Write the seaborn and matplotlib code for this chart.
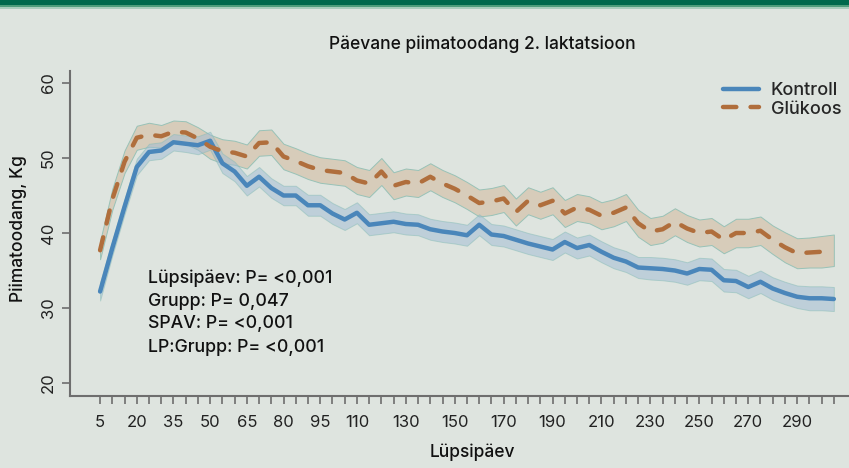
# Päevane piimatoodang 2. laktatsioonis: kontroll vs glükoos
import numpy as np
import pandas as pd
import matplotlib
matplotlib.use("Agg")
import matplotlib.pyplot as plt
from matplotlib.patches import Rectangle
from matplotlib.lines import Line2D
from matplotlib.ticker import FixedLocator
import seaborn as sns

# andmed (loetud jooniselt)
days = [5, 10, 15, 20, 25, 30, 35, 40, 45, 50,
        55, 60, 65, 70, 75, 80, 85, 90, 95, 100,
        105, 110, 115, 120, 125, 130, 135, 140, 145, 150,
        155, 160, 165, 170, 175, 180, 185, 190, 195, 200,
        205, 210, 215, 220, 225, 230, 235, 240, 245, 250,
        255, 260, 265, 270, 275, 280, 285, 290, 295, 300,
        305]

kontroll = [32.2, 38.0, 43.5, 48.8, 50.8, 51.0, 52.1, 51.9, 51.7, 52.3,
            49.3, 48.2, 46.3, 47.5, 46.0, 45.0, 45.0, 43.7, 43.7, 42.6,
            41.8, 42.7, 41.1, 41.3, 41.5, 41.2, 41.1, 40.5, 40.2, 40.0,
            39.7, 41.1, 39.8, 39.6, 39.1, 38.6, 38.2, 37.8, 38.8, 38.0,
            38.4, 37.5, 36.7, 36.2, 35.4, 35.3, 35.2, 35.0, 34.6, 35.2,
            35.1, 33.7, 33.6, 32.8, 33.5, 32.6, 32.0, 31.5, 31.3, 31.3,
            31.2]

glukoos = [37.7, 44.5, 49.5, 52.7, 53.1, 52.9, 53.5, 53.4, 52.6, 51.5,
           50.9, 50.7, 50.2, 52.0, 52.1, 50.2, 49.6, 48.9, 48.4, 48.2,
           48.0, 47.0, 46.6, 48.2, 46.3, 46.8, 46.6, 47.5, 46.6, 45.9,
           45.0, 44.0, 44.2, 44.6, 42.8, 44.3, 43.7, 44.3, 42.6, 43.4,
           43.1, 42.3, 42.7, 43.4, 41.3, 40.2, 40.5, 41.5, 40.6, 40.0,
           40.2, 39.1, 40.0, 40.0, 40.3, 39.1, 38.1, 37.3, 37.4, 37.5,
           37.7]

# usaldusvahemiku poollaius
kontroll_ci = [1.2, 1.0, 1.0, 1.1, 1.1, 1.1, 1.1, 1.1, 1.2, 1.2,
               1.3, 1.3, 1.3, 1.3, 1.3, 1.3, 1.3, 1.4, 1.4, 1.4,
               1.4, 1.4, 1.4, 1.4, 1.4, 1.4, 1.4, 1.4, 1.4, 1.4,
               1.4, 1.4, 1.4, 1.4, 1.4, 1.4, 1.4, 1.4, 1.4, 1.4,
               1.4, 1.4, 1.4, 1.4, 1.4, 1.5, 1.5, 1.5, 1.5, 1.5,
               1.5, 1.5, 1.5, 1.5, 1.5, 1.5, 1.5, 1.5, 1.6, 1.6,
               1.6]

glukoos_ci = [1.2, 1.4, 1.5, 1.6, 1.6, 1.5, 1.5, 1.5, 1.5, 1.6,
              1.6, 1.6, 1.6, 1.7, 1.7, 1.7, 1.7, 1.7, 1.7, 1.7,
              1.7, 1.8, 1.8, 1.8, 1.8, 1.8, 1.8, 1.8, 1.8, 1.8,
              1.8, 1.8, 1.8, 1.8, 1.8, 1.8, 1.8, 1.8, 1.8, 1.8,
              1.8, 1.8, 1.8, 1.8, 1.8, 1.8, 1.8, 1.8, 1.8, 1.8,
              1.8, 1.8, 1.9, 1.9, 1.9, 1.9, 2.0, 2.0, 2.0, 2.1,
              2.1]

x_tick_labels = [5, 20, 35, 50, 65, 80, 95, 110, 130, 150, 170,
                 190, 210, 230, 250, 270, 290]
y_ticks = [20, 30, 40, 50, 60]

stats_lines = ["Lüpsipäev: P= <0,001",
               "Grupp: P= 0,047",
               "SPAV: P= <0,001",
               "LP:Grupp: P= <0,001"]

# värvid
bg = "#DEE4DF"
blue = "#4A86BA"
brown = "#B06E3C"
dash = (3.0, 3.2)

sns.set_style("ticks")
plt.rcParams["font.family"] = ["Inter", "DejaVu Sans"]

fig = plt.figure(figsize=(8.49, 4.68), dpi=100, facecolor=bg)
ax = fig.add_axes([70 / 849, 72 / 468, 779 / 849, 325 / 468])
ax.set_facecolor(bg)

df = pd.DataFrame({
    "Lüpsipäev": days + days,
    "Piimatoodang": kontroll + glukoos,
    "Grupp": ["Kontroll"] * len(days) + ["Glükoos"] * len(days),
})

# usaldusvahemikud
d = np.array(days)
g = np.array(glukoos)
gc = np.array(glukoos_ci)
k = np.array(kontroll)
kc = np.array(kontroll_ci)
ax.fill_between(d, g - gc, g + gc, facecolor="#D7CCBA", edgecolor="#98C2B7",
                linewidth=0.7, zorder=1)
ax.fill_between(d, k - kc, k + kc, facecolor="#9FBBD4", alpha=0.5,
                edgecolor="#86BCB6", linewidth=0.7, zorder=2)

sns.lineplot(data=df, x="Lüpsipäev", y="Piimatoodang", hue="Grupp",
             style="Grupp", palette={"Kontroll": blue, "Glükoos": brown},
             dashes={"Kontroll": "", "Glükoos": dash},
             linewidth=3.2, dash_capstyle="round", solid_capstyle="round",
             legend=False, ax=ax, zorder=3)

ax.set_xlim(-7.3, 311.2)
ax.set_ylim(18.27, 61.6)

ax.xaxis.set_major_locator(FixedLocator(x_tick_labels))
ax.xaxis.set_minor_locator(FixedLocator(days))
ax.set_yticks(y_ticks)
ax.tick_params(axis="both", which="both", length=6, width=1.2, color="#6E6E6E",
               labelcolor="#222222", labelsize=12)
ax.tick_params(axis="x", which="major", pad=8)
ax.tick_params(axis="y", pad=4)
plt.setp(ax.get_yticklabels(), rotation=90, va="center")

for side in ["top", "right"]:
    ax.spines[side].set_visible(False)
for side in ["left", "bottom"]:
    ax.spines[side].set_color("#6E6E6E")
    ax.spines[side].set_linewidth(1.5)

ax.set_xlabel("")
ax.set_ylabel("")
fig.text(472 / 849, 1 - 452 / 468, "Lüpsipäev", ha="center", va="center",
         fontsize=12.5, fontweight="medium", color="#111111")
fig.text(18 / 849, 1 - 229 / 468, "Piimatoodang, Kg", ha="center", va="center",
         rotation=90, fontsize=12.5, fontweight="medium", color="#111111")
fig.text(482 / 849, 1 - 44 / 468, "Päevane piimatoodang 2. laktatsioon",
         ha="center", va="center", fontsize=12.5, fontweight="medium",
         color="#111111")

for i, line in enumerate(stats_lines):
    fig.text(148 / 849, 1 - (278 + 23 * i) / 468, line, ha="left", va="center",
             fontsize=12.8, fontweight="medium", color="#111111")

handles = [
    Line2D([], [], color=blue, lw=3.2, solid_capstyle="round"),
    Line2D([], [], color=brown, lw=3.2, dashes=dash, dash_capstyle="round"),
]
fig.legend(handles, ["Kontroll", "Glükoos"], loc="upper left",
           bbox_to_anchor=(723 / 849, 1 - 82 / 468), frameon=False,
           prop={"weight": "medium", "size": 13},
           handlelength=2.0, handletextpad=0.65, labelspacing=0.1,
           borderpad=0, borderaxespad=0)

# ülemine roheline riba
fig.add_artist(Rectangle((0, 1 - 5.3 / 468), 1, 5.3 / 468,
                         transform=fig.transFigure, color="#00694C", lw=0))
fig.add_artist(Rectangle((0, 1 - 7.3 / 468), 1, 2 / 468,
                         transform=fig.transFigure, color="#4E9D7B", lw=0))
fig.add_artist(Rectangle((0, 1 - 8.5 / 468), 1, 1.2 / 468,
                         transform=fig.transFigure, color="#A9CDBC", lw=0))

fig.savefig("out.png", dpi=100, facecolor=bg)
